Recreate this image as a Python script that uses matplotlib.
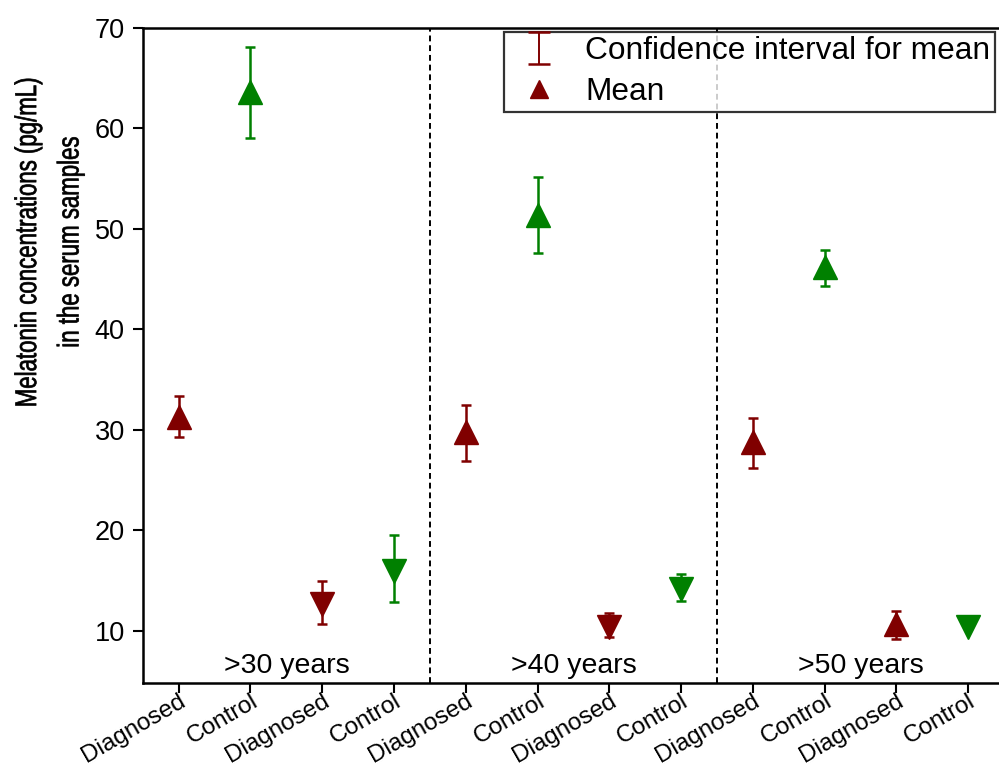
import numpy as np
import matplotlib
matplotlib.use("Agg")
import matplotlib.pyplot as plt
from matplotlib.patheffects import AbstractPathEffect
from matplotlib.transforms import Affine2D

plt.rcParams['font.family'] = ['Liberation Sans', 'DejaVu Sans']

categories = ["Diagnosed", "Control", "Diagnosed", "Control"] * 3
groups = [">30 years", ">40 years", ">50 years"]
means = [31.3, 63.6, 12.6, 15.9, 29.8, 51.4, 10.4, 14.1, 28.8, 46.2, 10.7, 10.4]
ci_low = [29.3, 59.0, 10.7, 12.8, 26.9, 47.6, 9.4, 12.9, 26.2, 44.3, 9.2, 10.3]
ci_high = [33.3, 68.1, 14.9, 19.5, 32.5, 55.1, 11.8, 15.6, 31.2, 47.9, 12.0, 10.5]
markers = ['^', '^', 'v', 'v', '^', '^', 'v', 'v', '^', '^', '^', 'v']
colors = ['#800000', '#008000', '#800000', '#008000'] * 3


class Stretch(AbstractPathEffect):
    """Scale drawn text horizontally about a fixed display point, with a light stroke."""
    def __init__(self, sx, center, stroke=0.5):
        super().__init__()
        self.sx = sx
        self.center = center
        self.stroke = stroke

    def draw_path(self, renderer, gc, tpath, affine, rgbFace=None):
        cx, cy = self.center
        t = affine + Affine2D().translate(-cx, -cy).scale(self.sx, 1.0).translate(cx, cy)
        gc0 = renderer.new_gc()
        gc0.copy_properties(gc)
        gc0.set_linewidth(self.stroke)
        if rgbFace is not None:
            gc0.set_foreground(rgbFace)
        renderer.draw_path(gc0, tpath, t, rgbFace)
        gc0.restore()


fig = plt.figure(figsize=(9.99, 7.69), dpi=100)
ax = fig.add_axes([0.143, 0.112, 0.862, 0.852])

x = np.arange(1, len(means) + 1)
for xi, m, lo, hi, mk, c in zip(x, means, ci_low, ci_high, markers, colors):
    ax.errorbar([xi], [m], yerr=[[m - lo], [hi - m]], fmt='none', ecolor=c,
                elinewidth=1.8, capsize=3.5, capthick=1.8, zorder=2)
    ax.plot([xi], [m], marker=mk, color=c, markersize=17, linestyle='none', zorder=3)

for xv in [4.5, 8.5]:
    ax.axvline(xv, color='black', linestyle=(0, (3, 2)), linewidth=1.4, zorder=1)

for gi, g in enumerate(groups):
    ax.text(2.5 + 4 * gi, 5.2, g, ha='center', va='bottom', fontsize=20.5)

ax.set_xlim(0.5, 12.5)
ax.set_ylim(4.8, 70)
ax.set_yticks([10, 20, 30, 40, 50, 60, 70])
ax.set_xticks(x)
ax.set_xticklabels(categories, rotation=30, ha='right', va='top', rotation_mode='anchor',
                   fontsize=17.5)
ax.tick_params(axis='y', labelsize=19.5, direction='out', length=7, width=1.5, pad=6)
ax.tick_params(axis='x', direction='out', length=7, width=1.5, pad=-2)
for s in ax.spines.values():
    s.set_linewidth(1.8)

ylab = ax.set_ylabel("Melatonin concentrations (pg/mL)\nin the serum samples", fontsize=16,
                     linespacing=1.65, ha='center', va='center')
ax.yaxis.set_label_coords(-0.108, 0.673)

eb = ax.errorbar([np.nan], [np.nan], yerr=[[1], [1]], fmt='none', ecolor='#800000',
                 elinewidth=1.4, capsize=8, capthick=1.8, label='Confidence interval for mean')
mh, = ax.plot([np.nan], [np.nan], marker='^', color='#800000', markersize=13,
              linestyle='none', label='Mean')
leg = ax.legend(handles=[eb, mh], loc='upper right', bbox_to_anchor=(0.993, 0.999),
                fontsize=22.8, frameon=True, fancybox=False, edgecolor='black',
                borderpad=0.15, labelspacing=0.35, handlelength=1.9, handletextpad=0.5,
                borderaxespad=0.1)
leg.get_frame().set_linewidth(1.6)

fig.canvas.draw()
bb = ylab.get_window_extent()
ylab.set_path_effects([Stretch(1.35, ((bb.x0 + bb.x1) / 2, (bb.y0 + bb.y1) / 2), stroke=0.5)])

fig.savefig("out.png", dpi=100)
